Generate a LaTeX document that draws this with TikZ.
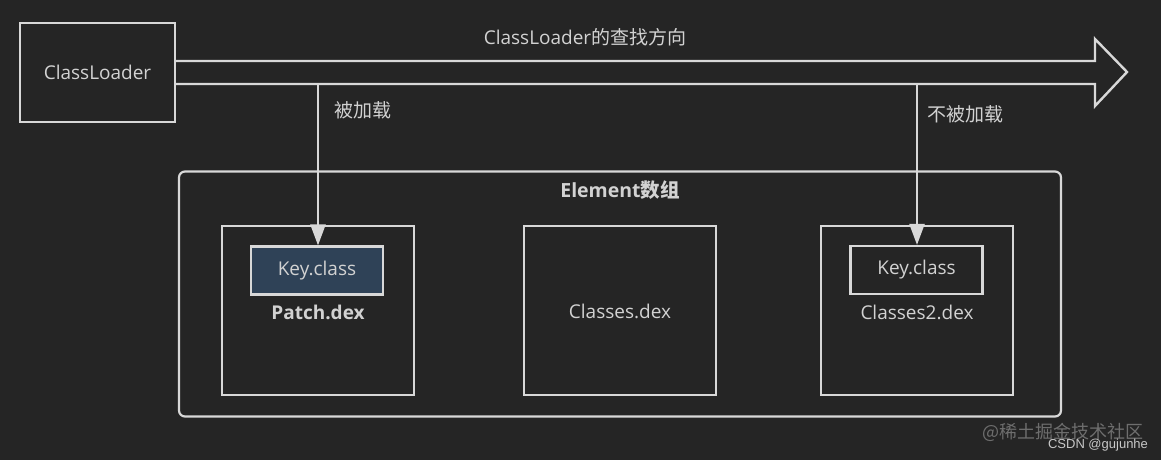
\documentclass[tikz,border=0pt]{standalone}
\usepackage{fontspec}
\setmainfont{Open Sans}
\newfontfamily\cjk{Noto Sans CJK SC}
\newfontfamily\wmfont{Liberation Sans}
\usetikzlibrary{arrows.meta}
\definecolor{bg}{HTML}{252525}
\definecolor{ln}{HTML}{D8D8D8}
\definecolor{tx}{HTML}{D2D2D2}
\definecolor{keyfill}{HTML}{2F4257}
\definecolor{wm}{HTML}{6E6E6E}
\definecolor{wm2}{HTML}{C8C8C8}
\begin{document}
\begin{tikzpicture}[x=1pt,y=-1pt,
  txt/.style={text=tx, font=\fontsize{19}{23}\selectfont, inner sep=0pt},
  boxline/.style={draw=ln, line width=2.2pt},
  loaderbox/.style={boxline, minimum width=155pt, minimum height=99pt, inner sep=0pt, text=tx, font=\fontsize{19}{23}\selectfont},
  dexbox/.style={boxline, minimum width=192pt, minimum height=169pt, inner sep=0pt, text=tx, font=\fontsize{19}{23}\selectfont},
  keybox/.style={boxline, minimum width=132pt, minimum height=48pt, inner sep=0pt, text=tx, font=\fontsize{19}{23}\selectfont},
  groupbox/.style={boxline, rounded corners=6pt, minimum width=882pt, minimum height=245pt, inner sep=0pt},
  conn/.style={draw=ln, line width=2.2pt, -{Triangle[length=21pt,width=15pt]}},
  bigarrow/.style={draw=ln, line width=2.4pt, line join=miter}
]
\fill[bg] (0,0) rectangle (1161,460);
\useasboundingbox (0,0) rectangle (1161,460);

% ClassLoader
\node[loaderbox] (cl) at (97.5,72.5) {ClassLoader};

% big direction arrow
\coordinate (shafttop) at (0,61);
\coordinate (shaftbot) at (0,84);
\coordinate (h1) at (1095,61);
\coordinate (h2) at (1095,39);
\coordinate (tip) at (1127,72);
\coordinate (h3) at (1095,106);
\coordinate (h4) at (1095,84);
\draw[bigarrow] (cl.east |- shafttop) -- (h1) -- (h2) -- (tip) -- (h3) -- (h4) -- (cl.east |- shaftbot);
\node[txt] (dirlabel) at (585,37) {ClassLoader{\cjk 的查找方向}};

% Element group
\node[groupbox] (elem) at (620,294) {};
\node[txt, font=\fontsize{19.5}{23}\selectfont\bfseries] (elemlabel) at (620,190) {Element{\cjk\bfseries 数组}};

% dex boxes
\node[dexbox] (patch) at (318,310.5) {};
\node[txt, font=\fontsize{19}{23}\selectfont\bfseries] (patchlabel) at (318,312) {Patch.dex};
\node[keybox, fill=keyfill] (key1) at (317,270.5) {Key.class};

\node[dexbox] (classes) at (620,310.5) {};
\node[txt] (classeslabel) at (620,311) {Classes.dex};

\node[dexbox] (classes2) at (917,310.5) {};
\node[txt] (classes2label) at (917,312) {Classes2.dex};
\node[keybox] (key2) at (916.5,270) {Key.class};

% connectors
\coordinate (s1) at (318,84);
\coordinate (s2) at (917,84);
\draw[conn] (s1) -- (s1 |- key1.north);
\draw[conn] (s2) -- (s2 |- key2.north);
\node[txt] (l1) at (363,110) {\cjk 被加载};
\node[txt] (l2) at (965,114) {\cjk 不被加载};

% watermark
\node[text=wm, font=\cjk\fontsize{18}{22}\selectfont, inner sep=0pt] (wm1) at (1063,432) {@稀土掘金技术社区};
\node[text=wm2, font=\wmfont\fontsize{13}{15}\selectfont, inner sep=0pt] (wm2) at (1098,445) {CSDN @gujunhe};
\end{tikzpicture}
\end{document}
